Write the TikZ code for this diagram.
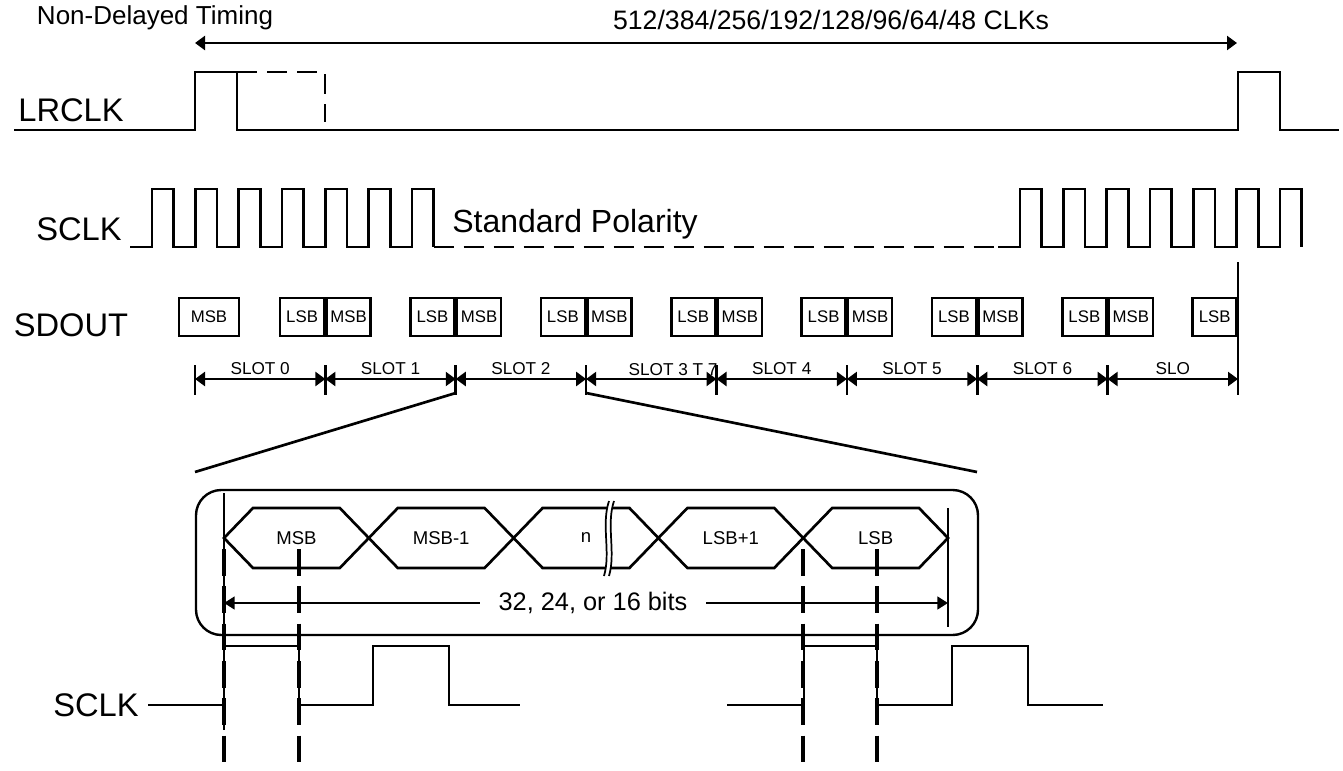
\documentclass[tikz,border=0pt]{standalone}
\usepackage{fontspec}
\setmainfont{Liberation Sans}
\usetikzlibrary{arrows.meta}

\tikzset{
  trait/.style={line width=2pt},
  pointille/.style={line width=2pt, dash pattern=on 15pt off 7.5pt},
  repere/.style={line width=2.4pt, dash pattern=on 20pt off 8pt},
  fleche/.style={line width=1.8pt, {Triangle[length=7.5pt,width=10.5pt]}-{Triangle[length=7.5pt,width=10.5pt]}},
  bitbox/.style={draw, line width=1.9pt, minimum width=33pt, minimum height=28.5pt, inner sep=0pt, font=\fontsize{12.6}{13}\selectfont},
  signame/.style={font=\fontsize{24.5}{26}\selectfont},
  slotlabel/.style={above, inner sep=2.5pt, font=\fontsize{12.9}{14}\selectfont},
}

\begin{document}
\begin{tikzpicture}[x=0.75pt, y=-0.75pt]
    \useasboundingbox (0,0) rectangle (1343,771);

    % Titres du haut
    \node[font=\fontsize{19.5}{20}\selectfont] (titre) at (155,18) {Non-Delayed Timing};
    \node[font=\fontsize{20}{21}\selectfont] (clks) at (831,20) {512/384/256/192/128/96/64/48 CLKs};
    \coordinate (ha) at (195,43);
    \coordinate (hb) at (1237,43);
    \draw[fleche] (ha) -- (hb);

    % Noms des signaux
    \node[signame] (lrclk) at (71,110) {LRCLK};
    \node[signame] (sclk) at (79,229) {SCLK};
    \node[signame] (sdout) at (71,325) {SDOUT};
    \node[signame] (sclkb) at (96,705) {SCLK};

    % LRCLK
    \draw[trait] (14,130) -- (195,130) -- (195,72) -- (237,72) -- (237,130) -- (1238,130) -- (1238,72) -- (1280,72) -- (1280,130) -- (1339,130);
    \draw[pointille] (237,72) -- (325,72) -- (325,122);

    % SCLK du haut
    \draw[trait] (130,247) \foreach \i in {0,...,6} { -- ({152+43.33*\i},247) -- ({152+43.33*\i},189) -- ({173.7+43.33*\i},189) -- ({173.7+43.33*\i},247) };
    \draw[pointille] (433.7,247) -- (998,247);
    \draw[trait] (998,247) \foreach \i in {0,...,6} { -- ({1020+43.33*\i},247) -- ({1020+43.33*\i},189) -- ({1041.7+43.33*\i},189) -- ({1041.7+43.33*\i},247) };
    \node[font=\fontsize{24}{26}\selectfont] (polar) at (575,224) {Standard Polarity};

    % SDOUT
    \node[bitbox, minimum width=45pt] (msb0) at (209,317) {MSB};
    \foreach \k in {1,...,7} {
      \node[bitbox, anchor=east] (lsb\k) at ({195+130.375*\k},317) {LSB};
      \node[bitbox, anchor=west] (msb\k) at ({195+130.375*\k},317) {MSB};
    }
    \node[bitbox, anchor=east] (lsb8) at (1238,317) {LSB};

    % Creneaux
    \foreach \k in {0,...,8} {
      \coordinate (t\k) at ({195+130.375*\k},379);
      \draw[trait] ({195+130.375*\k},365) -- ({195+130.375*\k},395);
    }
    \draw[trait] (1238,262) -- (1238,395);
    \foreach \a/\b/\txt in {0/1/SLOT 0, 1/2/SLOT 1, 2/3/SLOT 2, 4/5/SLOT 4, 5/6/SLOT 5, 6/7/SLOT 6, 7/8/SLO} {
      \draw[fleche] (t\a) -- (t\b) node[midway, slotlabel] (lab\a) {\txt};
    }
    \draw[fleche] (t3) -- (t4);
    \node[slotlabel, anchor=south west] (lab3) at (625,379) {SLOT 3 T 7};

    % Lignes de zoom
    \coordinate (b2) at (455.75,393);
    \coordinate (b3) at (586.1,393);
    \coordinate (z1) at (195,472);
    \coordinate (z2) at (977,472);
    \draw[trait] (b2) -- (z1);
    \draw[trait] (b3) -- (z2);

    % Cadre arrondi
    \node[draw, line width=1.8pt, rounded corners=19pt, minimum width=586.5pt, minimum height=108.75pt, inner sep=0pt] (cadre) at (587,562.5) {};

    % Bits
    \foreach \k/\txt in {0/MSB, 1/MSB-1, 2/n, 3/LSB+1, 4/LSB} {
      \draw[trait] ({224+144.8*\k},538) -- ({253+144.8*\k},508) -- ({339.8+144.8*\k},508) -- ({368.8+144.8*\k},538) -- ({339.8+144.8*\k},568) -- ({253+144.8*\k},568) -- cycle;
      \node[font=\fontsize{13.9}{15}\selectfont] (bit\k) at ({296.4+144.8*\k},538) {\txt};
    }
    \fill[white] (609,501) .. controls (601,525) and (611,552) .. (604,576) -- (609,576) .. controls (616,552) and (606,525) .. (614,501) -- cycle;
    \draw[line width=1.3pt] (609,501) .. controls (601,525) and (611,552) .. (604,576);
    \draw[line width=1.3pt] (614,501) .. controls (606,525) and (616,552) .. (609,576);

    % Reperes verticaux
    \draw[line width=1.4pt] (224,493) -- (224,730);
    \draw[line width=1.4pt] (948,508) -- (948,627);
    \foreach \x in {224,299,803,877} \draw[repere] (\x,549) -- (\x,768);

    % Largeur du mot
    \node[font=\fontsize{19}{20}\selectfont, inner xsep=14pt] (bits) at (593,603) {32, 24, or 16 bits};
    \coordinate (bg) at (224,603);
    \coordinate (bd) at (948,603);
    \draw[trait, -{Triangle[length=8pt,width=9.5pt]}] (bits) -- (bg);
    \draw[trait, -{Triangle[length=8pt,width=9.5pt]}] (bits) -- (bd);

    % SCLK du bas
    \draw[trait] (148,705) -- (224,705) -- (224,646) -- (299,646) -- (299,705) -- (373,705) -- (373,646) -- (449,646) -- (449,705) -- (520,705);
    \draw[trait] (727,705) -- (804,705) -- (804,646) -- (877,646) -- (877,705) -- (952,705) -- (952,646) -- (1028,646) -- (1028,705) -- (1103,705);
\end{tikzpicture}
\end{document}
